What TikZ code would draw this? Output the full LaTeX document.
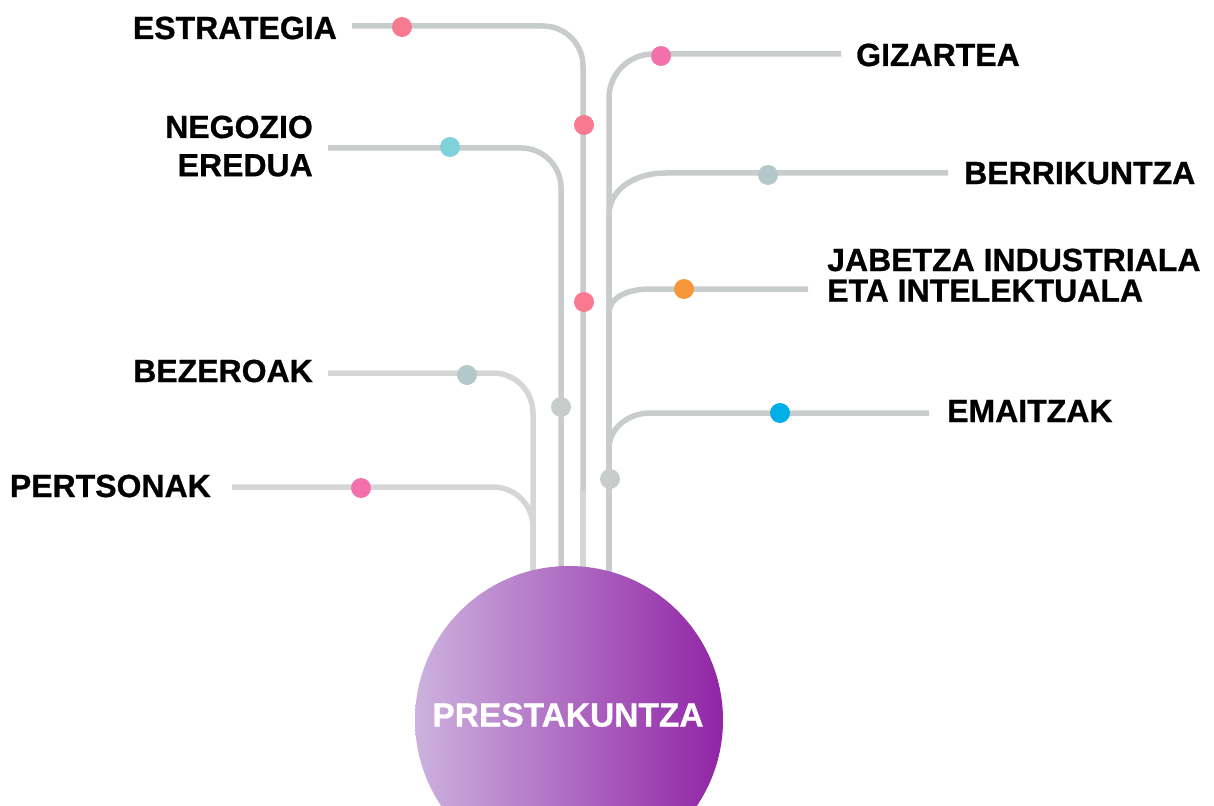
\documentclass[tikz,border=0pt]{standalone}
\usepackage{fontspec}
\setmainfont[BoldFeatures={FakeBold=0.8}]{Liberation Sans}
\usetikzlibrary{positioning}
\definecolor{wire}{RGB}{201,204,204}
\definecolor{wirelight}{RGB}{213,215,215}
\definecolor{coral}{RGB}{248,122,144}
\definecolor{rose}{RGB}{244,112,172}
\definecolor{aqua}{RGB}{126,210,218}
\definecolor{sage}{RGB}{179,200,200}
\definecolor{amber}{RGB}{248,150,58}
\definecolor{sky}{RGB}{0,175,232}
\definecolor{lilac}{RGB}{204,178,222}
\definecolor{plum}{RGB}{145,36,166}
\tikzset{
topic/.style   = {font=\bfseries\fontsize{32}{38}\selectfont, inner sep=0pt},
branch/.style  = {draw=wire, line width=5.5pt},
elbow/.style   = {rounded corners=40pt},
bead/.style    = {fill=#1, circle, minimum size=20pt, inner sep=0pt},
hub/.style     = {circle, minimum size=308pt, inner sep=0pt, left color=lilac, right color=plum},
hubtext/.style = {font=\bfseries\fontsize{33.5}{40}\selectfont, text=white, inner sep=0pt}
}

\begin{document}
\begin{tikzpicture}[x=1pt, y=-1pt]
  \useasboundingbox (0,0) rectangle (1214,805);
  \clip (0,0) rectangle (1214,805);

  % column ends
  \coordinate (colA)    at (533,600);
  \coordinate (colB)    at (561,600);
  \coordinate (colC)    at (583,491);
  \coordinate (colCend) at (583,600);
  \coordinate (colD)    at (609,600);

  % line starts next to the labels
  \coordinate (estrategia-in)  at (352,26);
  \coordinate (negozio-in)     at (328,148);
  \coordinate (bezeroak-in)    at (328,373);
  \coordinate (pertsonak-in)   at (232,487);
  \coordinate (gizartea-in)    at (841,54);
  \coordinate (berrikuntza-in) at (948,173);
  \coordinate (jabetza-in)     at (808,289);
  \coordinate (emaitzak-in)    at (929,413);

  \draw [branch, elbow] (estrategia-in) -| (colC);
  \draw [branch, draw=wirelight] (colC) -- (colCend);
  \draw [branch, elbow] (negozio-in) -| (colB);
  \draw [branch, elbow, draw=wirelight] (bezeroak-in) -| (colA);
  \draw [branch, elbow, draw=wirelight] (pertsonak-in) -| (colA);
  \draw [branch, rounded corners=44pt] (gizartea-in) -| (colD);
  \draw [branch] (berrikuntza-in) -- ++(-283,0) to[out=180,in=90] ++(-56,42) -- (colD);
  \draw [branch] (jabetza-in) -- ++(-158,0) to[out=180,in=90] ++(-41,25) -- (colD);
  \draw [branch] (emaitzak-in) -- ++(-279,0) to[out=180,in=90] ++(-41,36) -- (colD);

  \node [hub] (prestakuntza) at (569,720) {};
  \node [hubtext] (prestakuntza-text) at (568,715) {PRESTAKUNTZA};

  \node [bead=coral] (estrategia-dot)  at (402,27)  {};
  \node [bead=coral] (estrategia-dot2) at (584,125) {};
  \node [bead=coral] (estrategia-dot3) at (584,302) {};
  \node [bead=aqua]  (negozio-dot)     at (450,147) {};
  \node [bead=wire]  (negozio-dot2)    at (561,407) {};
  \node [bead=sage]  (bezeroak-dot)    at (467,375) {};
  \node [bead=rose]  (pertsonak-dot)   at (361,488) {};
  \node [bead=rose]  (gizartea-dot)    at (661,56)  {};
  \node [bead=sage]  (berrikuntza-dot) at (768,175) {};
  \node [bead=amber] (jabetza-dot)     at (684,289) {};
  \node [bead=sky]   (emaitzak-dot)    at (780,413) {};
  \node [bead=wire]  (gizartea-dot2)   at (610,479) {};

  \node [topic, anchor=base east] (estrategia)  at (337,39)  {ESTRATEGIA};
  \node [topic, anchor=base east] (negozio)     at (313,138) {NEGOZIO};
  \node [topic, below=15.5pt of negozio.south east, anchor=north east] (eredua) {EREDUA};
  \node [topic, anchor=base east] (bezeroak)    at (313,382) {BEZEROAK};
  \node [topic, anchor=base east] (pertsonak)   at (211,497) {PERTSONAK};
  \node [topic, anchor=base west] (gizartea)    at (856,66)  {GIZARTEA};
  \node [topic, anchor=base west] (berrikuntza) at (964,184) {BERRIKUNTZA};
  \node [topic, anchor=base west] (jabetza)     at (827,271) {JABETZA INDUSTRIALA};
  \node [topic, below=8pt of jabetza.south west, anchor=north west] (eta) {ETA INTELEKTUALA};
  \node [topic, anchor=base west] (emaitzak)    at (947,422) {EMAITZAK};
\end{tikzpicture}
\end{document}
